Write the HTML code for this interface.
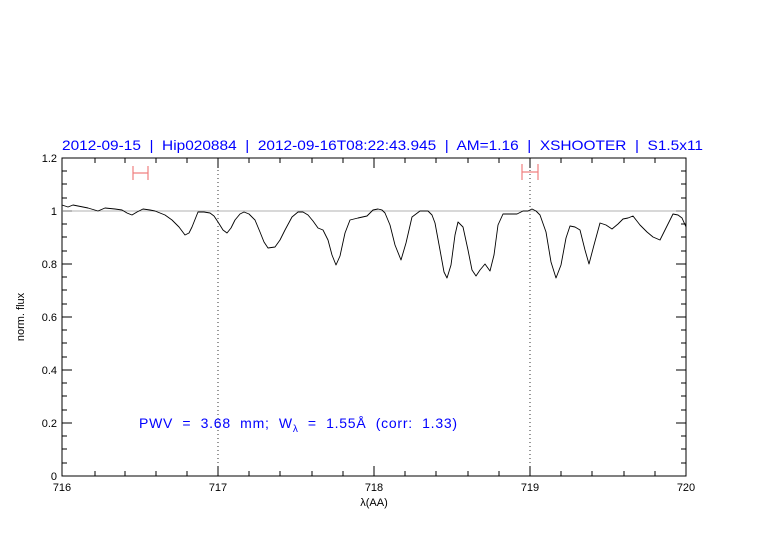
<!DOCTYPE html>
<html><head><meta charset="utf-8"><style>body{margin:0;background:#fff}</style></head><body>
<svg width="782" height="542" xmlns="http://www.w3.org/2000/svg" font-family="Liberation Sans, sans-serif">
<rect width="782" height="542" fill="#fff"/>
<text x="62" y="150" fill="#0000ff" font-size="14" textLength="641" lengthAdjust="spacingAndGlyphs" style="white-space:pre">2012-09-15  |  Hip020884  |  2012-09-16T08:22:43.945  |  AM=1.16  |  XSHOOTER  |  S1.5x11</text>
<g stroke="#000" stroke-width="1" fill="none">
<rect x="62" y="158" width="624" height="318"/>
<path d="M95 158v5M125 158v5M156 158v5M187 158v5M249 158v5M280 158v5M312 158v5M343 158v5M405 158v5M436 158v5M468 158v5M499 158v5M561 158v5M592 158v5M624 158v5M655 158v5
M95 476v-5M125 476v-5M156 476v-5M187 476v-5M249 476v-5M280 476v-5M312 476v-5M343 476v-5M405 476v-5M436 476v-5M468 476v-5M499 476v-5M561 476v-5M592 476v-5M624 476v-5M655 476v-5
M218 158v10M374 158v10M530 158v10M218 476v-10M374 476v-10M530 476v-10
M62 211h10M62 264h10M62 317h10M62 370h10M62 423h10M686 211h-10M686 264h-10M686 317h-10M686 370h-10M686 423h-10
M62 171h5M62 184h5M62 198h5M62 224h5M62 237h5M62 251h5M62 277h5M62 290h5M62 304h5M62 330h5M62 343h5M62 357h5M62 383h5M62 396h5M62 410h5M62 436h5M62 449h5M62 463h5
M686 171h-5M686 184h-5M686 198h-5M686 224h-5M686 237h-5M686 251h-5M686 277h-5M686 290h-5M686 304h-5M686 330h-5M686 343h-5M686 357h-5M686 383h-5M686 396h-5M686 410h-5M686 436h-5M686 449h-5M686 463h-5"/>
</g>
<path d="M218 158V476M530 158V476" stroke="#000" stroke-dasharray="1,3" stroke-width="0.8"/>
<line x1="62" y1="211" x2="686" y2="211" stroke="#999" stroke-width="0.8"/>
<g stroke="#f08080" stroke-width="1.2"><path d="M133 166v14M148 166v14M133 173h15M522 164v16M538 164v16M522 172h16"/></g>
<polyline fill="none" stroke="#000" stroke-width="0.9" stroke-linejoin="round" points="62,205 68,207 73,205 78,206 88,208 98,211 105,208 115,209 122,210 127,213 132,215 137,212 143,209 150,210 155,211 165,215 172,220 179,227 185,235 189,233 192,227 198,212 204,212 210,213 214,216 218,222 223,230 227,233 231,228 235,220 240,214 244,212 249,214 255,220 260,232 264,242 268,248 275,247 280,240 285,230 292,217 298,212 303,212 308,215 313,221 318,228 323,230 328,240 332,255 336,265 340,256 345,233 350,220 358,218 367,216 373,210 378,209 382,210 385,213 390,225 395,245 401,260 406,243 412,217 420,211 428,211 432,215 435,223 440,250 444,272 447,278 451,265 455,235 458,222 463,227 468,250 472,270 476,276 480,270 485,264 490,271 494,255 498,225 503,214 510,214 517,214 523,211 528,211 532,209 536,211 540,215 546,232 551,262 556,278 561,265 566,238 570,226 575,227 580,230 585,250 589,264 594,245 600,223 606,225 612,229 618,224 623,219 628,218 633,216 640,225 647,232 653,237 660,240 666,228 673,214 678,215 682,218 686,227"/>
<g font-size="11" text-anchor="end" fill="#000">
<text x="57" y="162">1.2</text><text x="57" y="215">1</text><text x="57" y="268">0.8</text><text x="57" y="321">0.6</text><text x="57" y="374">0.4</text><text x="57" y="427">0.2</text><text x="57" y="480">0</text>
</g>
<g font-size="11" text-anchor="middle" fill="#000">
<text x="62" y="491">716</text><text x="218" y="491">717</text><text x="374" y="491">718</text><text x="530" y="491">719</text><text x="686" y="491">720</text>
<text x="374" y="506">λ(AA)</text>
<text transform="translate(24 317) rotate(-90)">norm. flux</text>
</g>
<text x="139" y="428" fill="#0000ff" font-size="14" letter-spacing="0.75" style="white-space:pre">PWV  =  3.68  mm;  W<tspan font-size="10" dy="4">λ</tspan><tspan dy="-4">  =  1.55Å  (corr:  1.33)</tspan></text>
</svg>
</body></html>
